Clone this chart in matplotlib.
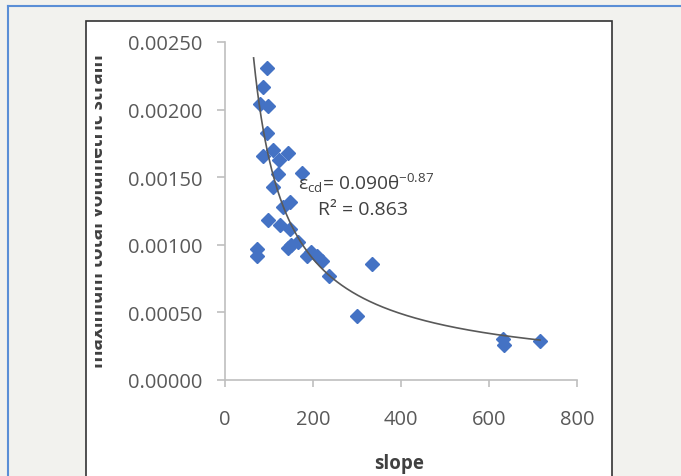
import numpy as np
import matplotlib
matplotlib.use("Agg")
import matplotlib.pyplot as plt
from matplotlib.patches import Rectangle
from matplotlib.lines import Line2D
from matplotlib.transforms import Bbox, TransformedBbox

# ---- data ----
slope = [95, 86, 80, 98, 95, 86, 109, 123, 143, 120, 175, 109, 148, 132, 98,
         125, 148, 73, 73, 143, 166, 150, 186, 208, 195, 220, 236, 334, 300,
         632, 634, 716]
strain = [0.00231, 0.00217, 0.00204, 0.00203, 0.00183, 0.00166, 0.00170,
          0.00163, 0.00168, 0.00152, 0.00153, 0.00143, 0.00132, 0.00128,
          0.00118, 0.00115, 0.00112, 0.00097, 0.00092, 0.00098, 0.00102,
          0.00100, 0.00092, 0.00092, 0.00095, 0.00088, 0.00077, 0.00086,
          0.00047, 0.00030, 0.00026, 0.00029]
fit_coef = 0.090
fit_exp = -0.87
fit_xmin = 65
xticks = [0, 200, 400, 600, 800]
yticks = [0.0, 0.0005, 0.0010, 0.0015, 0.0020, 0.0025]
ytick_labels = ["0.00000", "0.00050", "0.00100", "0.00150", "0.00200", "0.00250"]
eq_text = r"$\mathregular{ε_{cd}}$= 0.090θ$\mathregular{^{-0.87}}$"
r2_text = "R² = 0.863"

W, H = 681, 477
fig = plt.figure(figsize=(W / 100, H / 100), dpi=100)
fig.patch.set_facecolor("#f2f2ee")
plt.rcParams["mathtext.fontset"] = "custom"
plt.rcParams["mathtext.rm"] = "Open Sans"

def fx(px):
    return px / W

def fy(py):
    return 1 - py / H

# blue frame lines
fig.add_artist(Line2D([fx(8), 1], [fy(7), fy(7)], color="#5b8fd6", lw=1.5, zorder=-2))
fig.add_artist(Line2D([fx(8), fx(8)], [fy(7), 0], color="#5b8fd6", lw=1.5, zorder=-2))
# white chart box
fig.add_artist(Rectangle((fx(86), fy(490)), fx(612) - fx(86), fy(22) - fy(490),
                         facecolor="white", edgecolor="#333333", lw=1.2, zorder=-1))

ax = fig.add_axes([fx(225), fy(381), fx(577) - fx(225), fy(43) - fy(381)])
ax.set_zorder(2)
ax.set_facecolor("none")

xs = np.array(slope, dtype=float)
ys = np.array(strain, dtype=float)
xc = np.linspace(fit_xmin, xs.max(), 300)
ax.plot(xc, fit_coef * xc ** fit_exp, color="#595959", lw=1.2, zorder=3)
ax.plot(xs, ys, linestyle="none", marker="D", markersize=7.4,
        color="#4472C4", markeredgecolor="#4472C4", zorder=2)

ax.set_xlim(0, 800)
ax.set_ylim(0, 0.0025)
ax.set_xticks(xticks)
ax.set_xticklabels([str(t) for t in xticks])
ax.set_yticks(yticks)
ax.set_yticklabels(ytick_labels)
for s in ["top", "right"]:
    ax.spines[s].set_visible(False)
for s in ["left", "bottom"]:
    ax.spines[s].set_color("#bfbfbf")
    ax.spines[s].set_linewidth(1.2)
ax.tick_params(axis="both", direction="out", color="#bfbfbf", width=1.2,
               labelcolor="#595959", labelsize=14.5)
ax.tick_params(axis="y", length=6, pad=10)
ax.tick_params(axis="x", length=5, pad=16)
for lab in ax.get_xticklabels() + ax.get_yticklabels():
    lab.set_family("Open Sans")

ax.text(0.206, 0.585, eq_text, transform=ax.transAxes, fontsize=13.8,
        color="#404040", family="Open Sans", va="center", ha="left")
ax.text(0.265, 0.505, r2_text, transform=ax.transAxes, fontsize=14,
        color="#404040", family="Open Sans", va="center", ha="left")

fig.text(fx(399), fy(464), "slope", fontsize=13.5, fontweight="bold",
         color="#404040", family="Open Sans", ha="center", va="center")
yl = fig.text(fx(108), fy(211), "maximum total volumetric strain", fontsize=13.6,
              fontweight="bold", color="#404040", family="Open Sans",
              rotation=90, ha="right", va="center")
clip = TransformedBbox(Bbox([[fx(95), 0], [1, 1]]), fig.transFigure)
yl.set_clip_box(clip)
yl.set_clip_on(True)

fig.savefig("out.png", dpi=100, facecolor=fig.get_facecolor())
